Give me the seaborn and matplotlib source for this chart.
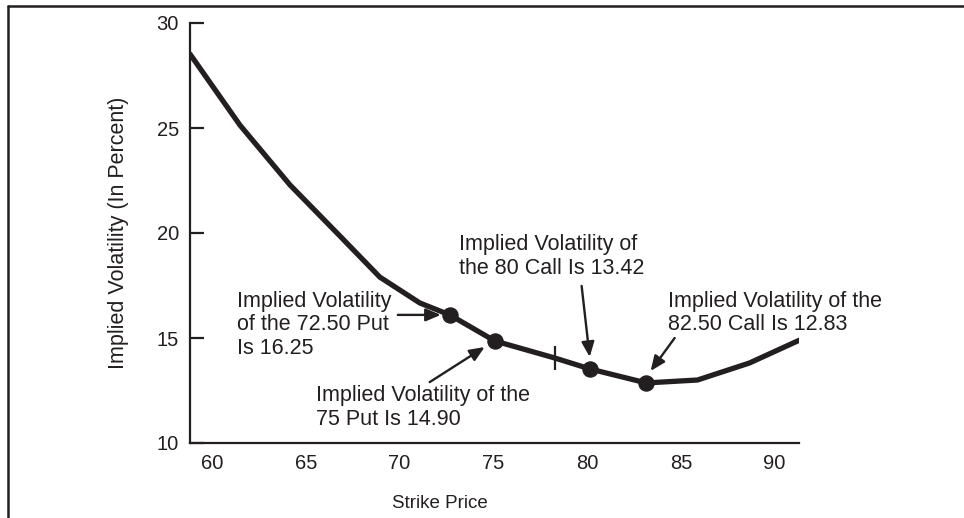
import numpy as np
import pandas as pd
import matplotlib
matplotlib.use("Agg")
import matplotlib.pyplot as plt
from matplotlib.lines import Line2D
import seaborn as sns

# volatility skew curve
strike = [58.83, 61.49, 64.16, 66.82, 68.95, 71.08, 72.68, 75.08, 78.27,
          80.18, 83.16, 85.89, 88.66, 91.33]
vol = [28.52, 25.14, 22.29, 19.86, 17.90, 16.67, 16.10, 14.86, 14.05,
       13.52, 12.86, 13.00, 13.81, 14.90]

# the four labelled options (dots)
dot_strike = [72.68, 75.08, 80.18, 83.16]
dot_vol = [16.10, 14.86, 13.52, 12.86]

# at-the-money tick on the curve
atm_strike = [78.27]
atm_vol = [14.05]

notes = [
    "Implied Volatility\nof the 72.50 Put\nIs 16.25",
    "Implied Volatility of the\n75 Put Is 14.90",
    "Implied Volatility of\nthe 80 Call Is 13.42",
    "Implied Volatility of the\n82.50 Call Is 12.83",
]

x_ticks = [60, 65, 70, 75, 80, 85, 90]
y_ticks = [10, 15, 20, 25, 30]

ink = "#231f20"

sns.set_theme(style="white")
plt.rcParams["font.family"] = ["Liberation Sans", "DejaVu Sans"]
plt.rcParams["text.color"] = ink

fig = plt.figure(figsize=(9.64, 5.18), dpi=100)
ax = fig.add_axes([190 / 964, 1 - 443 / 518, 609 / 964, 420 / 518])

curve = pd.DataFrame({"strike": strike, "vol": vol})
sns.lineplot(data=curve, x="strike", y="vol", ax=ax, color=ink, linewidth=3.8,
             sort=False)
sns.scatterplot(x=dot_strike, y=dot_vol, ax=ax, color=ink, s=120,
                edgecolor=ink, zorder=5)
ax.plot(atm_strike, atm_vol, marker="|", markersize=17, markeredgewidth=1.6,
        color=ink, linestyle="none")

ax.set_xlim(58.83, 91.3)
ax.set_ylim(10, 30)
ax.set_xticks(x_ticks)
ax.set_yticks(y_ticks)
ax.tick_params(axis="y", direction="in", length=10, width=1.6, color=ink,
               labelsize=14.5, labelcolor=ink, pad=8, left=True)
ax.tick_params(axis="x", length=0, labelsize=14.5, labelcolor=ink, pad=8)

for side in ["top", "right"]:
    ax.spines[side].set_visible(False)
for side in ["left", "bottom"]:
    ax.spines[side].set_color(ink)
    ax.spines[side].set_linewidth(1.6)

ax.set_xlabel("Strike Price", fontsize=13.5, color=ink)
ax.set_ylabel("Implied Volatility (In Percent)", fontsize=15.5, color=ink)
ax.xaxis.set_label_coords(0.41, -0.125)
ax.yaxis.set_label_coords(-0.1, 0.5)

# text blocks (left edge, vertical centre) and arrows (start -> tip)
text_pos = [(61.33, 15.62), (65.54, 11.69), (73.16, 18.88), (84.29, 16.19)]
arrow_from = [(69.91, 16.10), (71.61, 12.90), (79.71, 17.48), (84.67, 15.00)]
arrow_to = [(72.20, 16.10), (74.54, 14.57), (80.14, 14.10), (83.39, 13.43)]

for note, pos in zip(notes, text_pos):
    ax.text(pos[0], pos[1], note, ha="left", va="center", fontsize=15.5,
            linespacing=1.18, color=ink)

for a, b in zip(arrow_from, arrow_to):
    ax.annotate("", xy=b, xytext=a,
                arrowprops=dict(arrowstyle="-|>,head_length=0.75,head_width=0.32",
                                color=ink, lw=1.7, shrinkA=0, shrinkB=0))

# page frame: left and top rules
fig.add_artist(Line2D([8 / 964, 8 / 964], [0, 1 - 6 / 518], color=ink, lw=1.8,
                      transform=fig.transFigure))
fig.add_artist(Line2D([8 / 964, 1], [1 - 6 / 518, 1 - 6 / 518], color=ink, lw=1.8,
                      transform=fig.transFigure))

fig.savefig("out.png", dpi=100)
